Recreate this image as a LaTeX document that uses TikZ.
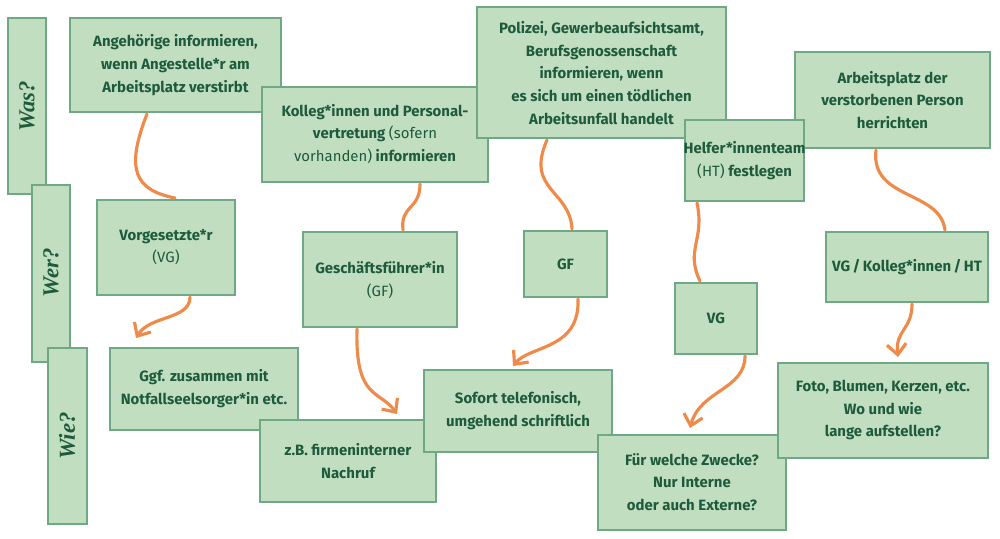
\documentclass[tikz,border=0pt]{standalone}
\usepackage{fontspec}
\setmainfont{Fira Sans}
\newfontfamily\serifit{Liberation Serif}
\usetikzlibrary{arrows.meta}
\definecolor{boxfill}{HTML}{C1DFC0}
\definecolor{boxline}{HTML}{6FA885}
\definecolor{txt}{HTML}{1E5A3C}
\definecolor{org}{HTML}{EE8B4A}
\begin{document}
\begin{tikzpicture}[x=0.02cm,y=-0.02cm,
  bx/.style={draw=boxline,fill=boxfill,line width=0.8pt},
  lbl/.style={text=txt,align=center,font=\fontsize{8.5}{13}\selectfont\bfseries},
  side/.style={text=txt,rotate=90,font=\serifit\itshape\bfseries\fontsize{13}{15}\selectfont},
  wig/.style={draw=org,line width=1.8pt,line cap=round},
  wiga/.style={wig,-{Straight Barb[length=6pt,width=11pt,line width=1.8pt]}}]
\useasboundingbox (0,0) rectangle (1000,538);
% side labels
\draw[bx] (8,18) rectangle (46,194); \node[side] (was) at (27,106) {Was?};
\draw[bx] (32,185) rectangle (70,362); \node[side] (wer) at (51,273) {Wer?};
\draw[bx] (48,348) rectangle (87,524); \node[side] (wie) at (67,436) {Wie?};
% column 1
\draw[bx] (70,18) rectangle (281,112);
\node[lbl] (a1) at (175.5,65) {Angehörige informieren,\\wenn Angestelle*r am\\Arbeitsplatz verstirbt};
\draw[bx] (97,200) rectangle (235,295);
\node[lbl] (a2) at (166,247) {Vorgesetzte*r\\\mdseries(VG)};
\draw[bx] (110,348) rectangle (298,430);
\node[lbl] (a3) at (204,389) {Ggf. zusammen mit\\Notfallseelsorger*in etc.};
% column 2
\draw[bx] (262,87) rectangle (488,182);
\node[lbl] (b1) at (375,134) {Kolleg*innen und Personal-\\vertretung {\mdseries(sofern}\\{\mdseries vorhanden)} informieren};
\draw[bx] (303,232) rectangle (457,327);
\node[lbl] (b2) at (380,280) {Geschäftsführer*in\\\mdseries(GF)};
\draw[bx] (260,420) rectangle (436,502);
\node[lbl] (b3) at (348,461) {z.B. firmeninterner\\Nachruf};
% column 3
\draw[bx] (477,7) rectangle (726,138);
\node[lbl] (c1) at (601.5,73) {Polizei, Gewerbeaufsichtsamt,\\Berufsgenossenschaft\\informieren, wenn\\es sich um einen tödlichen\\Arbeitsunfall handelt};
\draw[bx] (524,231) rectangle (607,297);
\node[lbl] (c2) at (565.5,264) {GF};
\draw[bx] (424,370) rectangle (612,452);
\node[lbl] (c3) at (518,411) {Sofort telefonisch,\\umgehend schriftlich};
% column 4
\draw[bx] (795,52) rectangle (990,148);
\node[lbl] (e1) at (892.5,100) {Arbeitsplatz der\\verstorbenen Person\\herrichten};
\draw[bx] (685,120) rectangle (804,201);
\node[lbl] (d1) at (744.5,161) {Helfer*innenteam\\{\mdseries(HT)} festlegen};
\draw[bx] (675,283) rectangle (757,354);
\node[lbl] (d2) at (716,318) {VG};
\draw[bx] (598,435) rectangle (786,530);
\node[lbl] (d3) at (692,482) {Für welche Zwecke?\\Nur Interne\\oder auch Externe?};
% column 5
\draw[bx] (826,232) rectangle (988,302);
\node[lbl] (e2) at (907,267) {VG\,/\,Kolleg*innen\,/\,HT};
\draw[bx] (778,363) rectangle (988,458);
\node[lbl] (e3) at (883,410) {Foto, Blumen, Kerzen, etc.\\Wo und wie\\lange aufstellen?};
% coordinates for connectors
\coordinate (p1) at (147,114); \coordinate (q1) at (175,198);
\coordinate (p2) at (190,297); \coordinate (q2) at (136,338);
\coordinate (p3) at (420,184); \coordinate (q3) at (403,230);
\coordinate (p4) at (357,329); \coordinate (q4) at (397,414);
\coordinate (p5) at (547,140); \coordinate (q5) at (572,229);
\coordinate (p6) at (578,299); \coordinate (q6) at (513,366);
\coordinate (p7) at (697,203); \coordinate (q7) at (700,281);
\coordinate (p8) at (745,356); \coordinate (q8) at (690,428);
\coordinate (p9) at (876,150); \coordinate (q9) at (945,230);
\coordinate (p10) at (912,304); \coordinate (q10) at (898,357);
\draw[wig] (p1) .. controls (125,170) and (135,190) .. (q1);
\draw[wiga] (p2) .. controls (190,320) and (150,315) .. (q2);
\draw[wig] (p3) .. controls (420,210) and (400,205) .. (q3);
\draw[wiga] (p4) .. controls (355,400) and (380,390) .. (q4);
\draw[wig] (p5) .. controls (525,190) and (570,190) .. (q5);
\draw[wiga] (p6) .. controls (580,350) and (530,345) .. (q6);
\draw[wig] (p7) .. controls (705,240) and (685,250) .. (q7);
\draw[wiga] (p8) .. controls (745,390) and (700,390) .. (q8);
\draw[wig] (p9) .. controls (870,200) and (940,190) .. (q9);
\draw[wiga] (p10) .. controls (912,330) and (895,330) .. (q10);
\end{tikzpicture}
\end{document}
